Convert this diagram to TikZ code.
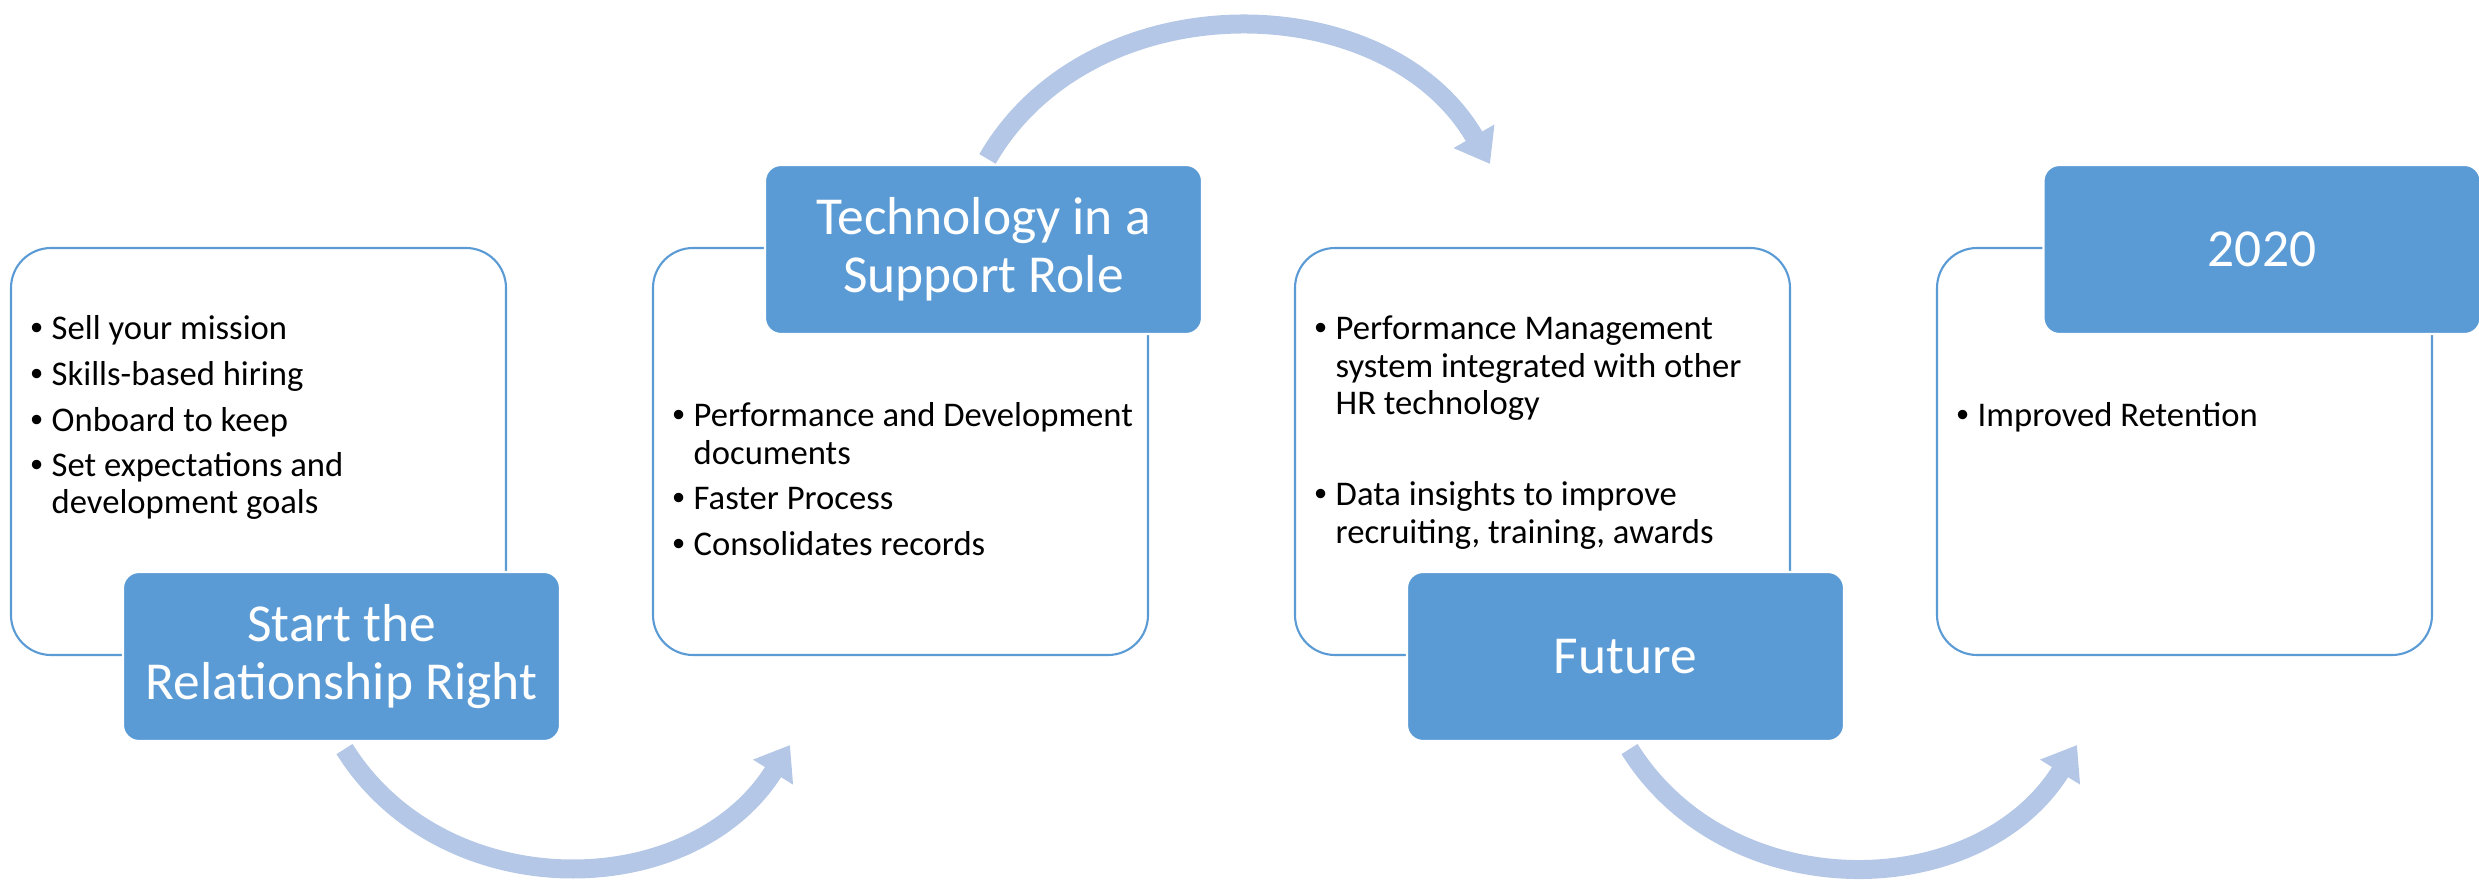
\documentclass[tikz,border=0pt]{standalone}
\usepackage{fontspec}
\setmainfont{Carlito}
\newfontfamily\bulletfont{Liberation Sans}
\usetikzlibrary{arrows.meta}

\definecolor{boxblue}{HTML}{5B9BD5}
\definecolor{arrowblue}{HTML}{B4C7E7}

% bullet with a hanging indent for the list rows
\newcommand{\dotitem}{\makebox[0.21cm][l]{\bulletfont\textbullet}}
\newcommand{\hang}{\hspace*{0.21cm}}

\tikzset{
  panel/.style = {draw=boxblue, line width=0.6pt, fill=white,
    rounded corners=0.4cm, minimum width=4.95cm, minimum height=4.07cm},
  header/.style = {draw=white, line width=0.6pt, fill=boxblue,
    rounded corners=0.16cm, minimum width=4.37cm, minimum height=1.69cm,
    text=white, align=center, font=\fontsize{15.2}{16.6}\selectfont},
  items/.style = {anchor=base west, inner sep=0pt,
    font=\fontsize{9.85}{10.65}\selectfont},
  flow/.style = {draw=arrowblue, line width=0.19cm,
    -{Triangle[width=0.45cm, length=0.32cm]}}
}

\begin{document}
\begin{tikzpicture}
  \useasboundingbox (0,0) rectangle (24.79,8.86);

  % white panels
  \node[panel] (stage1) at (2.585,4.345) {};
  \node[panel] (stage2) at (9.005,4.345) {};
  \node[panel] (stage3) at (15.425,4.345) {};
  \node[panel] (stage4) at (21.845,4.345) {};

  % bullet lists
  \node[items] (list1) at (0.30,5.46) {\begin{tabular}[t]{@{}l@{}}
    \dotitem Sell your mission\\[2.3pt]
    \dotitem Skills-based hiring\\[2.3pt]
    \dotitem Onboard to keep\\[2.3pt]
    \dotitem Set expectations and\\
    \hang development goals
  \end{tabular}};
  \node[items] (list2) at (6.72,4.59) {\begin{tabular}[t]{@{}l@{}}
    \dotitem Performance and Development\\
    \hang documents\\[2.3pt]
    \dotitem Faster Process\\[2.3pt]
    \dotitem Consolidates records
  \end{tabular}};
  \node[items] (list3) at (13.14,5.46) {\begin{tabular}[t]{@{}l@{}}
    \dotitem Performance Management\\
    \hang system integrated with other\\
    \hang HR technology\\[2.3pt]
    \mbox{}\\[2.3pt]
    \dotitem Data insights to improve\\
    \hang recruiting, training, awards
  \end{tabular}};
  \node[items] (list4) at (19.56,4.59) {\begin{tabular}[t]{@{}l@{}}
    \dotitem Improved Retention
  \end{tabular}};

  % blue headers
  \node[header] (head1) at (3.415,2.295) {Start the\\Relationship Right};
  \node[header] (head2) at (9.835,6.365) {Technology in a\\Support Role};
  \node[header] (head3) at (16.255,2.295) {Future};
  \node[header] (head4) at (22.62,6.365) {2020};

  % curved arrows between the stages
  \coordinate (tip1) at (7.90,1.41);
  \coordinate (tip2) at (14.90,7.22);
  \coordinate (tip3) at (20.77,1.41);
  \draw[flow] ([xshift=0.03cm,yshift=-0.07cm]head1.south)
    to[out=-58, in=238, looseness=1.07] (tip1);
  \draw[flow] ([xshift=0.04cm,yshift=0.05cm]head2.north)
    to[out=60, in=120, looseness=1.05] (tip2);
  \draw[flow] ([xshift=0.04cm,yshift=-0.07cm]head3.south)
    to[out=-58, in=238, looseness=1.07] (tip3);
\end{tikzpicture}
\end{document}
